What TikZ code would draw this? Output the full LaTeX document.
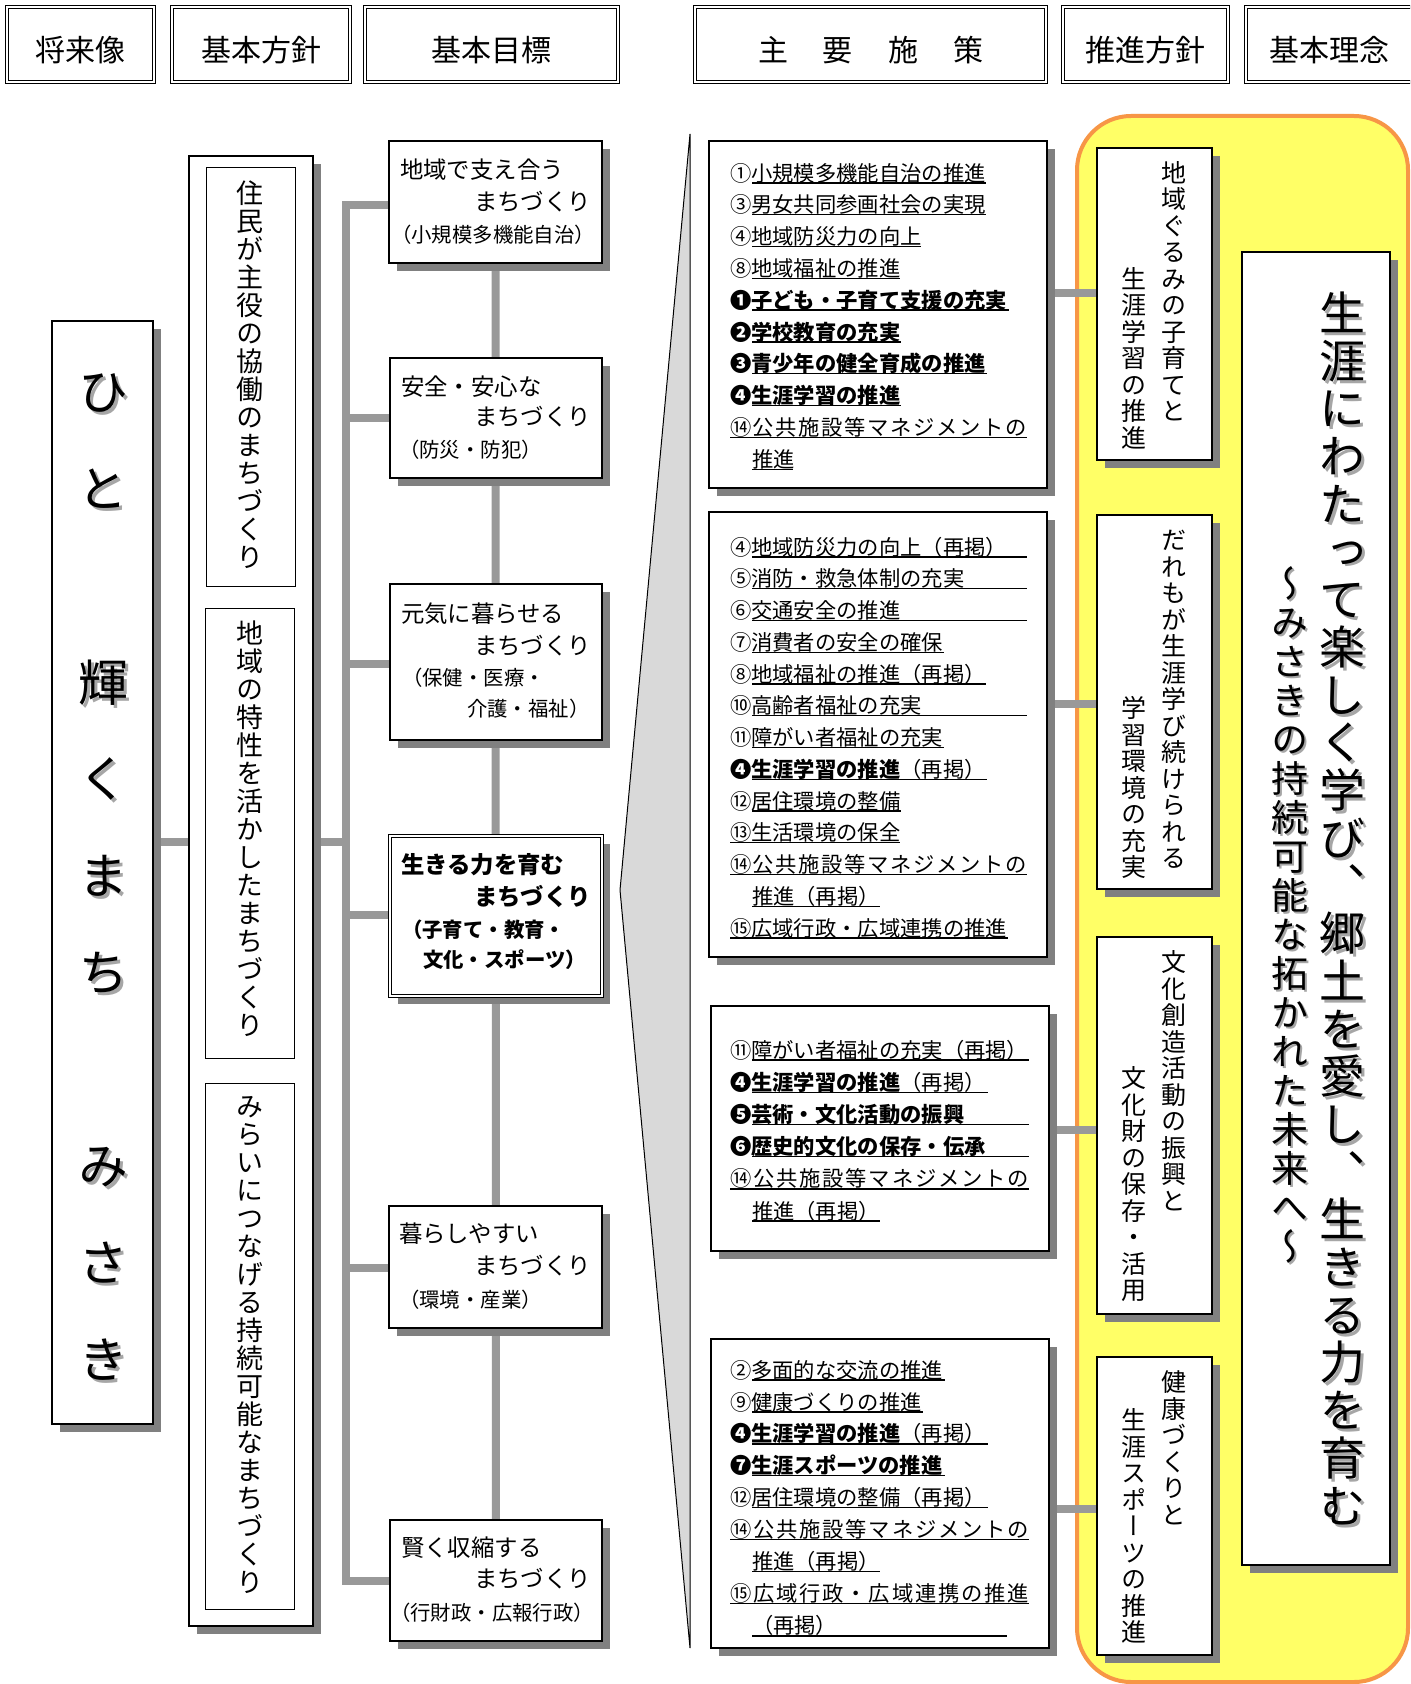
\documentclass[tikz,border=0pt]{standalone}
\usepackage{fontspec}
\setmainfont{Noto Sans CJK JP}
\newfontfamily\vjp[RawFeature={+vert}]{Noto Sans CJK JP}
\usetikzlibrary{fit,shadows}
\definecolor{conng}{HTML}{999999}
\definecolor{shd}{HTML}{808080}
\definecolor{wedgec}{HTML}{D9D9D9}
\definecolor{yelc}{HTML}{FFFF66}
\definecolor{orgc}{HTML}{F79646}
\makeatletter
\def\vt@a#1#2{\hbox{#1}\ifx#2\relax\else\expandafter\vt@a\expandafter#2\fi}
\newcommand\VT[2]{\vtop{\baselineskip=#1\lineskiplimit=-\maxdimen\lineskip=0pt\relax\vt@a#2\relax}}
\newcommand\VB[2]{\vbox{\baselineskip=#1\lineskiplimit=-\maxdimen\lineskip=0pt\relax\vt@a#2\relax}}
\def\sp@a#1#2{#1\ifx#2\relax\else\hfil\expandafter\sp@a\expandafter#2\fi}
\newcommand\SPR[2]{\hbox to #1{\sp@a#2\relax}}
\makeatother
\newcommand\PI[6]{\node[itm] (#1) at (#2,#3+8.1) {#4};\draw[ul] (#5,#3+10) -- (#6,#3+10);}
\begin{document}
\begin{tikzpicture}[x=0.5pt,y=-0.5pt,
  every node/.style={inner sep=0pt, outer sep=0pt},
  conn/.style={draw=conng, line width=4pt},
  hdr/.style={draw, double, double distance=1.2pt, line width=0.6pt, fill=white},
  hdrt/.style={anchor=base, font=\fontsize{15}{18}\selectfont},
  shad/.style={drop shadow={shadow xshift=4pt, shadow yshift=-4pt, fill=shd, opacity=1}},
  sbox/.style={draw, line width=1.4pt, fill=white, shad},
  thinbox/.style={draw, line width=0.5pt, fill=white},
  ul/.style={line width=0.7pt},
  itm/.style={anchor=base west, font=\fontsize{10.65}{12}\selectfont},
  gt/.style={anchor=base west, font=\fontsize{11.7}{14}\selectfont},
  gp/.style={anchor=base west, font=\fontsize{10.2}{12}\selectfont},
  hst/.style={anchor=base, font=\vjp\fontsize{13.5}{14}\selectfont},
  pt/.style={anchor=base, font=\vjp\fontsize{12.5}{13.25}\selectfont},
  bigt/.style={anchor=base, font=\vjp\fontsize{25}{30}\selectfont},
  ttl/.style={anchor=base, font=\vjp\fontsize{23}{24}\selectfont},
  sttl/.style={anchor=base, font=\vjp\fontsize{18.5}{19.5}\selectfont}
]
\path[use as bounding box, clip] (0,0) rectangle (1410,1684);
\fill[white] (0,0) rectangle (1410,1684);

% headers
\node[hdr, fit={(7,7) (154,82)}] (h1) {};
\node[hdr, fit={(172,7) (350,82)}] (h2) {};
\node[hdr, fit={(365,7) (618,82)}] (h3) {};
\node[hdr, fit={(695,7) (1046,82)}] (h4) {};
\node[hdr, fit={(1063,7) (1228,82)}] (h5) {};
\node[hdr, fit={(1246,7) (1416,82)}] (h6) {};
\node[hdrt] (h1t) at (80.5,61.4) {将来像};
\node[hdrt] (h2t) at (261,61.4) {基本方針};
\node[hdrt] (h3t) at (491.5,61.4) {基本目標};
\node[hdrt] (h4t) at (870.5,61.4) {\SPR{112.5pt}{主要施策}};
\node[hdrt] (h5t) at (1145.5,61.4) {推進方針};
\node[hdrt] (h6t) at (1329,61.4) {基本理念};

% yellow background and wedge
\node[fit={(1077,116) (1408,1682)}, draw=orgc, line width=2pt, fill=yelc, rounded corners=27pt] (yel) {};
\filldraw[fill=wedgec, draw=black, line width=0.5pt] (690,134) -- (620,890) -- (690,1648) -- cycle;

% anchors for connectors
\coordinate (jL) at (0,842);
\coordinate (tr1) at (346,205);
\coordinate (tr2) at (346,418);
\coordinate (tr3) at (346,664);
\coordinate (tr4) at (346,915);
\coordinate (tr5) at (346,1268);
\coordinate (tr6) at (346,1581);
\coordinate (ya) at (0,293);
\coordinate (yb) at (0,704);
\coordinate (yc) at (0,1130);
\coordinate (yd) at (0,1509);

\path node[fit={(52,321) (153,1424)}] (hito) {}
      node[fit={(189,156) (313,1626)}] (hoshin) {}
      node[fit={(389,141) (602,263)}] (g1) {}
      node[fit={(390,358) (602,478)}] (g2) {}
      node[fit={(390,584) (602,740)}] (g3) {}
      node[fit={(390,836) (602,996)}] (g4) {}
      node[fit={(389,1206) (602,1328)}] (g5) {}
      node[fit={(390,1520) (602,1641)}] (g6) {}
      node[fit={(709,141) (1047,488)}] (pA) {}
      node[fit={(709,512) (1047,957)}] (pB) {}
      node[fit={(711,1006) (1049,1251)}] (pC) {}
      node[fit={(711,1339) (1049,1648)}] (pD) {}
      node[fit={(1097,148) (1212,460)}] (q1) {}
      node[fit={(1097,515) (1212,889)}] (q2) {}
      node[fit={(1097,937) (1212,1314)}] (q3) {}
      node[fit={(1097,1357) (1212,1655)}] (q4) {};

% connectors
\draw[conn] (hito.east |- jL) -- (hoshin.west |- jL);
\draw[conn] (hoshin.east |- jL) -- (tr1 |- jL);
\draw[conn] (g1.west |- tr1) -- (tr1) -- (tr6) -- (g6.west |- tr6);
\draw[conn] (tr2) -- (g2.west |- tr2);
\draw[conn] (tr3) -- (g3.west |- tr3);
\draw[conn] (tr4) -- (g4.west |- tr4);
\draw[conn] (tr5) -- (g5.west |- tr5);
\draw[conn] (g1.center) -- (g6.center);
\draw[conn] (pA.east |- ya) -- (q1.west |- ya);
\draw[conn] (pB.east |- yb) -- (q2.west |- yb);
\draw[conn] (pC.east |- yc) -- (q3.west |- yc);
\draw[conn] (pD.east |- yd) -- (q4.west |- yd);

% boxes drawn
\node[sbox, fit={(52,321) (153,1424)}] (hitoB) {};
\node[sbox, fit={(189,156) (313,1626)}] (hoshinB) {};
\node[thinbox, fit={(206,168) (295,586)}] (hs1) {};
\node[thinbox, fit={(205,608) (294,1058)}] (hs2) {};
\node[thinbox, fit={(205,1083) (294,1609)}] (hs3) {};
\node[sbox, fit={(389,141) (602,263)}] (g1B) {};
\node[sbox, fit={(390,358) (602,478)}] (g2B) {};
\node[sbox, fit={(390,584) (602,740)}] (g3B) {};
\node[draw, double, double distance=1pt, line width=0.5pt, fill=white, shad, fit={(390,836) (602,996)}] (g4B) {};
\node[sbox, fit={(389,1206) (602,1328)}] (g5B) {};
\node[sbox, fit={(390,1520) (602,1641)}] (g6B) {};
\node[sbox, fit={(709,141) (1047,488)}] (pAB) {};
\node[sbox, fit={(709,512) (1047,957)}] (pBB) {};
\node[sbox, fit={(711,1006) (1049,1251)}] (pCB) {};
\node[sbox, fit={(711,1339) (1049,1648)}] (pDB) {};
\node[sbox, fit={(1097,148) (1212,460)}] (q1B) {};
\node[sbox, fit={(1097,515) (1212,889)}] (q2B) {};
\node[sbox, fit={(1097,937) (1212,1314)}] (q3B) {};
\node[sbox, fit={(1097,1357) (1212,1655)}] (q4B) {};
\node[sbox, fit={(1242,252) (1390,1565)}] (rin) {};

% vision text
\node[bigt, text=black!35] (hitoS) at (106,414) {\VT{48.35pt}{ひと　輝くまち　みさき}};
\node[bigt] (hitoT) at (103,411) {\VT{48.35pt}{ひと　輝くまち　みさき}};

% basic policy texts
\node[hst] (hs1t) at (250,203.3) {\VT{14pt}{住民が主役の協働のまちづくり}};
\node[hst] (hs2t) at (250,643.3) {\VT{14pt}{地域の特性を活かしたまちづくり}};
\node[hst] (hs3t) at (250,1116.3) {\VT{14pt}{みらいにつなげる持続可能なまちづくり}};

% goal texts
\node[gt] (g1a) at (400,178.9) {地域で支え合う};
\node[gt] (g1b) at (474,210.9) {まちづくり};
\node[gp] (g1c) at (391,242.7) {（小規模多機能自治）};
\node[gt] (g2a) at (401,395.9) {安全・安心な};
\node[gt] (g2b) at (474,425.9) {まちづくり};
\node[gp] (g2c) at (399,457.7) {（防災・防犯）};
\node[gt] (g3a) at (401,622.9) {元気に暮らせる};
\node[gt] (g3b) at (474,654.9) {まちづくり};
\node[gp] (g3c) at (402,685.7) {（保健・医療・};
\node[gp] (g3d) at (467,716.7) {介護・福祉）};
\node[gt, font=\fontsize{11.7}{14}\selectfont\bfseries] (g4a) at (401,873.9) {生きる力を育む};
\node[gt, font=\fontsize{11.7}{14}\selectfont\bfseries] (g4b) at (474,905.9) {まちづくり};
\node[gp, font=\fontsize{10.2}{12}\selectfont\bfseries] (g4c) at (402,937.7) {（子育て・教育・};
\node[gp, font=\fontsize{10.2}{12}\selectfont\bfseries] (g4d) at (423,967.7) {文化・スポーツ）};
\node[gt] (g5a) at (399,1242.9) {暮らしやすい};
\node[gt] (g5b) at (474,1274.9) {まちづくり};
\node[gp] (g5c) at (399,1307.7) {（環境・産業）};
\node[gt] (g6a) at (401,1556.9) {賢く収縮する};
\node[gt] (g6b) at (474,1587.9) {まちづくり};
\node[gp] (g6c) at (390,1620.7) {（行財政・広報行政）};

% box A
\PI{a1}{730}{173}{①小規模多機能自治の推進}{752}{986}
\PI{a2}{730}{204.8}{③男女共同参画社会の実現}{752}{986}
\PI{a3}{730}{236.6}{④地域防災力の向上}{752}{921}
\PI{a4}{730}{268.4}{⑧地域福祉の推進}{752}{900}
\PI{a5}{730}{300.2}{\bfseries ❶子ども・子育て支援の充実}{752}{1009}
\PI{a6}{730}{332}{\bfseries ❷学校教育の充実}{752}{901}
\PI{a7}{730}{363.8}{\bfseries ❸青少年の健全育成の推進}{752}{987}
\PI{a8}{730}{395.6}{\bfseries ❹生涯学習の推進}{752}{901}
\PI{a9}{730}{427.4}{\SPR{148.5pt}{⑭公共施設等マネジメントの}}{730}{1027}
\PI{a10}{752}{459.2}{推進}{752}{793}

% box B
\PI{b1}{730}{547}{④地域防災力の向上（再掲）}{752}{1027}
\PI{b2}{730}{578.75}{⑤消防・救急体制の充実}{752}{1027}
\PI{b3}{730}{610.5}{⑥交通安全の推進}{752}{1027}
\PI{b4}{730}{642.25}{⑦消費者の安全の確保}{752}{944}
\PI{b5}{730}{674}{⑧地域福祉の推進（再掲）}{752}{986}
\PI{b6}{730}{705.75}{⑩高齢者福祉の充実}{752}{1027}
\PI{b7}{730}{737.5}{⑪障がい者福祉の充実}{752}{944}
\PI{b8}{730}{769.25}{{\bfseries ❹生涯学習の推進}（再掲）}{752}{987}
\PI{b9}{730}{801}{⑫居住環境の整備}{752}{901}
\PI{b10}{730}{832.75}{⑬生活環境の保全}{730}{900}
\PI{b11}{730}{864.5}{\SPR{148.5pt}{⑭公共施設等マネジメントの}}{730}{1027}
\PI{b12}{752}{896.25}{推進（再掲）}{752}{880}
\PI{b13}{730}{928}{⑮広域行政・広域連携の推進}{730}{1008}

% box C
\PI{c1}{730}{1050}{⑪障がい者福祉の充実（再掲）}{752}{1029}
\PI{c2}{730}{1082.2}{{\bfseries ❹生涯学習の推進}（再掲）}{752}{988}
\PI{c3}{730}{1114.4}{\bfseries ❺芸術・文化活動の振興}{752}{1029}
\PI{c4}{730}{1146.6}{\bfseries ❻歴史的文化の保存・伝承}{752}{1029}
\PI{c5}{730}{1178.8}{\SPR{149.5pt}{⑭公共施設等マネジメントの}}{730}{1029}
\PI{c6}{752}{1211}{推進（再掲）}{752}{880}

% box D
\PI{d1}{730}{1370}{②多面的な交流の推進}{752}{945}
\PI{d2}{730}{1401.9}{⑨健康づくりの推進}{752}{923}
\PI{d3}{730}{1433.8}{{\bfseries ❹生涯学習の推進}（再掲）}{752}{988}
\PI{d4}{730}{1465.7}{\bfseries ❼生涯スポーツの推進}{752}{945}
\PI{d5}{730}{1497.6}{⑫居住環境の整備（再掲）}{752}{988}
\PI{d6}{730}{1529.5}{\SPR{149.5pt}{⑭公共施設等マネジメントの}}{730}{1029}
\PI{d7}{752}{1561.4}{推進（再掲）}{752}{880}
\PI{d8}{730}{1593.3}{\SPR{149.5pt}{⑮広域行政・広域連携の推進}}{730}{1029}
\node[itm] (d9) at (752,1633.3) {（再掲）};
\draw[line width=1.3pt] (752,1636) -- (1007,1636);

% promotion policy texts
\node[pt] (q1r) at (1174,182.5) {\VT{13.25pt}{地域ぐるみの子育てと}};
\node[pt] (q1l) at (1134,447.5) {\VB{13.25pt}{生涯学習の推進}};
\node[pt] (q2r) at (1174,549.5) {\VT{13.25pt}{だれもが生涯学び続けられる}};
\node[pt] (q2l) at (1134,876.5) {\VB{13.25pt}{学習環境の充実}};
\node[pt] (q3r) at (1174,971.5) {\VT{13.25pt}{文化創造活動の振興と}};
\node[pt] (q3l) at (1134,1299.5) {\VB{13.25pt}{文化財の保存・活用}};
\node[pt] (q4r) at (1174,1391.5) {\VT{13.25pt}{健康づくりと}};
\node[pt] (q4l) at (1134,1641.5) {\VB{13.25pt}{生涯スポーツの推進}};

% basic philosophy
\node[ttl, text=black!35] (ttlS) at (1345,333.5) {\VT{23.85pt}{生涯にわたって楽しく学び、郷土を愛し、生きる力を育む}};
\node[ttl] (ttlT) at (1342,330.5) {\VT{23.85pt}{生涯にわたって楽しく学び、郷土を愛し、生きる力を育む}};
\node[sttl, text=black!35] (sttlS) at (1292,599) {\VT{19.5pt}{～みさきの持続可能な拓かれた未来へ～}};
\node[sttl] (sttlT) at (1290,597) {\VT{19.5pt}{～みさきの持続可能な拓かれた未来へ～}};
\end{tikzpicture}
\end{document}
